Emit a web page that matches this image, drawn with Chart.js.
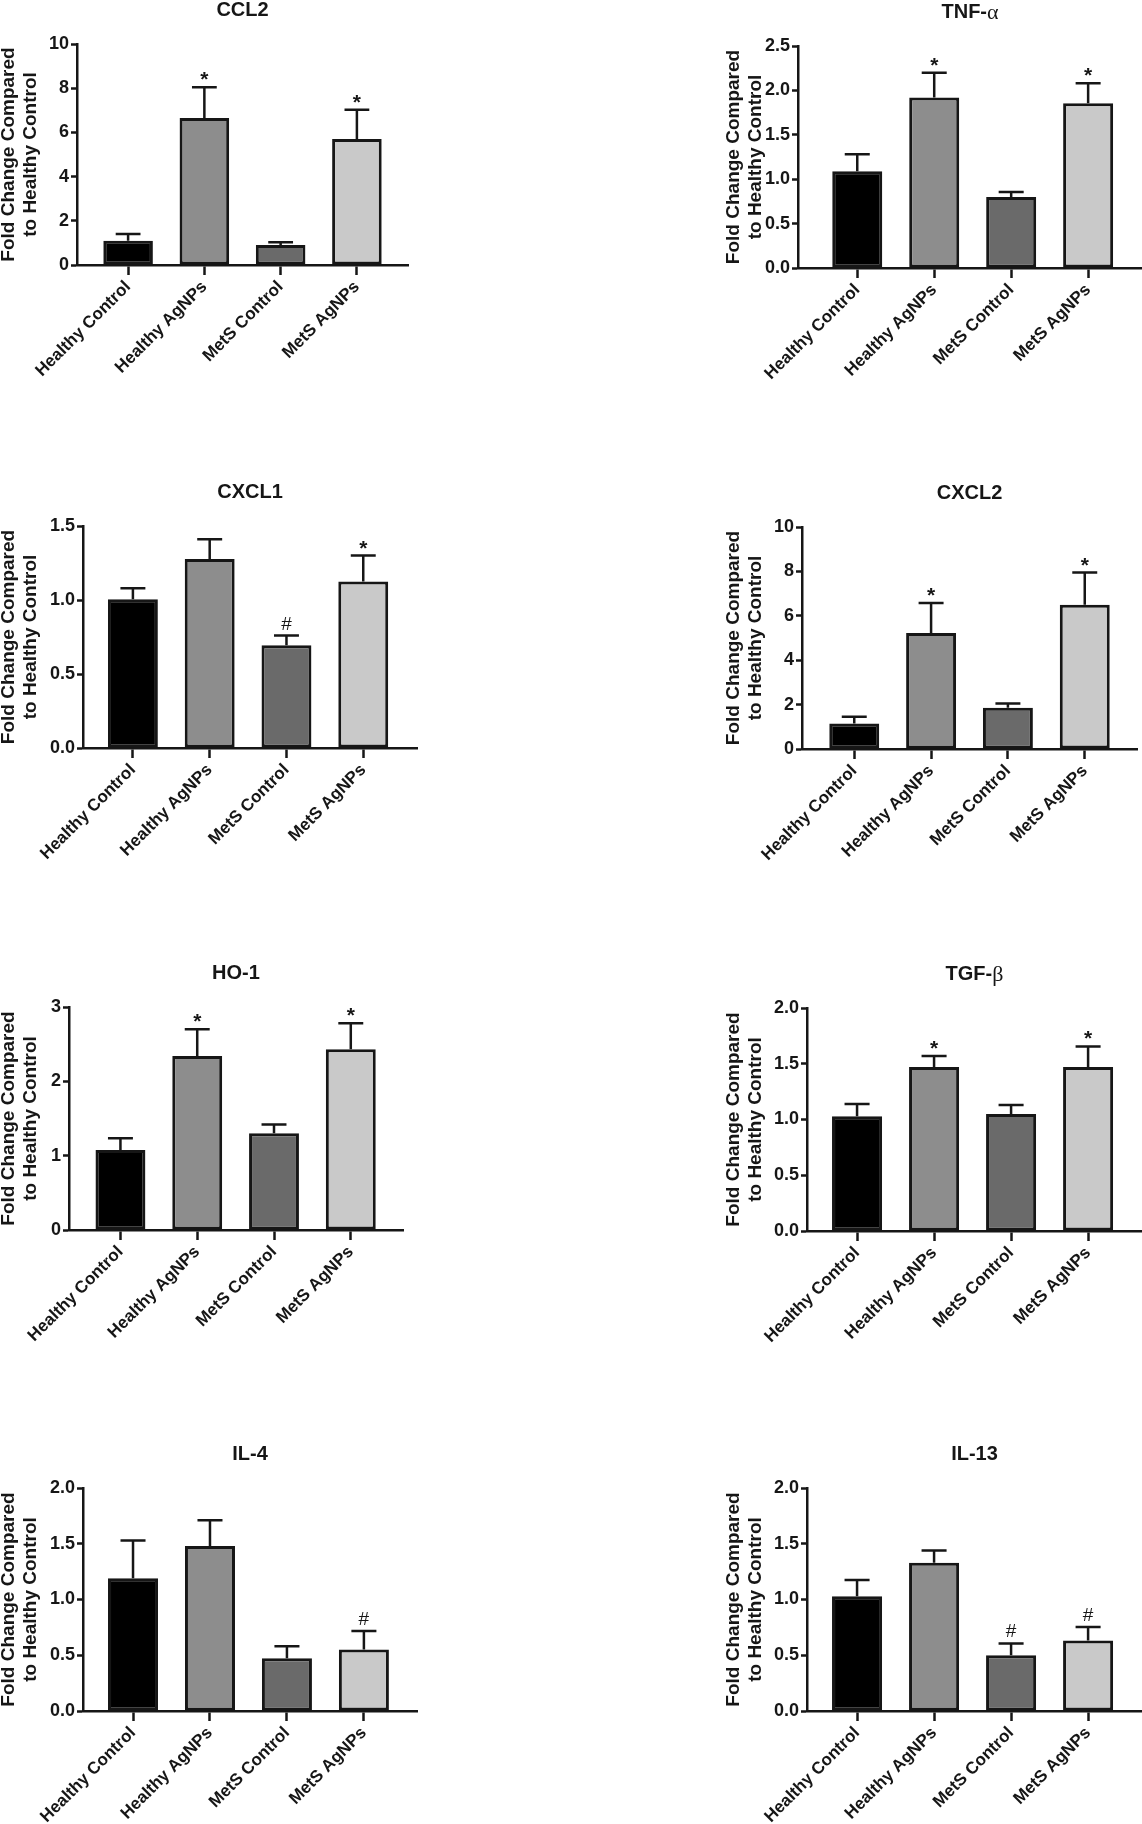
<!DOCTYPE html>
<html>
<head>
<meta charset="utf-8">
<script src="https://cdn.jsdelivr.net/npm/chart.js@4.4.1/dist/chart.umd.min.js"></script>
<style>
  body { margin: 0; background: #fff; width: 1142px; height: 1824px; position: relative; overflow: hidden; }
  canvas { position: absolute; }
</style>
</head>
<body>
<script>
// groups along the x axis (same for every panel)
var groups = ['Healthy Control', 'Healthy AgNPs', 'MetS Control', 'MetS AgNPs'];

// mean fold change, upper error (SEM) and significance mark per group
var ccl2Mean = [1.10, 6.65, 0.91, 5.70];
var ccl2Err  = [0.30, 1.39, 0.12, 1.32];
var ccl2Sig  = ['', '*', '', '*'];

var tnfMean = [1.09, 1.92, 0.80, 1.855];
var tnfErr  = [0.19, 0.28, 0.055, 0.225];
var tnfSig  = ['', '*', '', '*'];

var cxcl1Mean = [1.005, 1.277, 0.695, 1.125];
var cxcl1Err  = [0.075, 0.133, 0.065, 0.175];
var cxcl1Sig  = ['', '', '#', '*'];

var cxcl2Mean = [1.15, 5.23, 1.86, 6.50];
var cxcl2Err  = [0.30, 1.35, 0.19, 1.45];
var cxcl2Sig  = ['', '*', '', '*'];

var ho1Mean = [1.075, 2.34, 1.30, 2.43];
var ho1Err  = [0.16, 0.36, 0.12, 0.35];
var ho1Sig  = ['', '*', '', '*'];

var tgfMean = [1.03, 1.47, 1.05, 1.47];
var tgfErr  = [0.11, 0.10, 0.08, 0.185];
var tgfSig  = ['', '*', '', '*'];

var il4Mean = [1.19, 1.48, 0.474, 0.552];
var il4Err  = [0.34, 0.23, 0.106, 0.165];
var il4Sig  = ['', '', '', '#'];

var il13Mean = [1.03, 1.33, 0.50, 0.633];
var il13Err  = [0.145, 0.11, 0.106, 0.12];
var il13Sig  = ['', '', '#', '#'];

// bar fills, one per group
var barColors = ['#000000', '#8d8d8d', '#6a6a6a', '#c9c9c9'];

var ink = '#161616';
var sans = "'Liberation Sans', Arial, Helvetica, sans-serif";
Chart.defaults.font.family = sans;
Chart.defaults.color = ink;

// panel list: title (+ greek suffix), data, y axis, and where the panel sits on the page
var panels = [
  { title: 'CCL2', mean: ccl2Mean, err: ccl2Err, sig: ccl2Sig, yMax: 10, yStep: 2, dec: 0,
    box: { x: -2, y: 0, w: 430, h: 460 }, area: { left: 77, top: 44, right: 408, bottom: 265 }, xMin: -0.67, xMax: 3.67 },
  { title: 'TNF-', greek: 'α', mean: tnfMean, err: tnfErr, sig: tnfSig, yMax: 2.5, yStep: 0.5, dec: 1,
    box: { x: 700, y: 0, w: 442, h: 460 }, area: { left: 798, top: 46, right: 1142, bottom: 268 }, xMin: -0.77, xMax: 3.70 },
  { title: 'CXCL1', mean: cxcl1Mean, err: cxcl1Err, sig: cxcl1Sig, yMax: 1.5, yStep: 0.5, dec: 1,
    box: { x: -2, y: 460, w: 430, h: 480 }, area: { left: 83, top: 526, right: 417, bottom: 748 }, xMin: -0.65, xMax: 3.70 },
  { title: 'CXCL2', mean: cxcl2Mean, err: cxcl2Err, sig: cxcl2Sig, yMax: 10, yStep: 2, dec: 0,
    box: { x: 700, y: 460, w: 442, h: 480 }, area: { left: 802, top: 527, right: 1137, bottom: 749 }, xMin: -0.68, xMax: 3.68 },
  { title: 'HO-1', mean: ho1Mean, err: ho1Err, sig: ho1Sig, yMax: 3, yStep: 1, dec: 0,
    box: { x: -2, y: 940, w: 430, h: 480 }, area: { left: 69, top: 1007, right: 403, bottom: 1230 }, xMin: -0.67, xMax: 3.68 },
  { title: 'TGF-', greek: 'β', mean: tgfMean, err: tgfErr, sig: tgfSig, yMax: 2, yStep: 0.5, dec: 1,
    box: { x: 700, y: 940, w: 442, h: 480 }, area: { left: 807, top: 1008, right: 1142, bottom: 1231 }, xMin: -0.65, xMax: 3.70 },
  { title: 'IL-4', mean: il4Mean, err: il4Err, sig: il4Sig, yMax: 2, yStep: 0.5, dec: 1,
    box: { x: -2, y: 1420, w: 430, h: 404 }, area: { left: 83, top: 1488, right: 417, bottom: 1711 }, xMin: -0.65, xMax: 3.69 },
  { title: 'IL-13', mean: il13Mean, err: il13Err, sig: il13Sig, yMax: 2, yStep: 0.5, dec: 1,
    box: { x: 700, y: 1420, w: 442, h: 404 }, area: { left: 807, top: 1488, right: 1142, bottom: 1711 }, xMin: -0.65, xMax: 3.70 }
];

//draws the upper error bar, its cap and the significance mark over each bar
function errorPlugin(p) {
  return {
    id: 'errorBars',
    afterDatasetsDraw: function (chart) {
      var ctx = chart.ctx;
      var yScale = chart.scales.y;
      var meta = chart.getDatasetMeta(0);
      meta.data.forEach(function (bar, i) {
        var base = yScale.getPixelForValue(p.mean[i]);
        var top = yScale.getPixelForValue(p.mean[i] + p.err[i]);
        var half = bar.width / 4;
        ctx.save();
        ctx.strokeStyle = ink;
        ctx.lineWidth = 2.5;
        ctx.beginPath();
        ctx.moveTo(bar.x, base);
        ctx.lineTo(bar.x, top);
        ctx.moveTo(bar.x - half, top);
        ctx.lineTo(bar.x + half, top);
        ctx.stroke();
        if (p.sig[i]) {
          ctx.fillStyle = ink;
          ctx.textAlign = 'center';
          ctx.textBaseline = 'alphabetic';
          if (p.sig[i] === '*') {
            ctx.font = 'bold 21px ' + sans;
            ctx.fillText('*', bar.x, top - 1);
          } else {
            ctx.font = '19px ' + sans;
            ctx.fillText('#', bar.x, top - 6);
          }
        }
        ctx.restore();
      });
    }
  };
}

//panel title centred over the plot area
function titlePlugin(p) {
  return {
    id: 'panelTitle',
    afterDraw: function (chart) {
      var ctx = chart.ctx;
      var a = chart.chartArea;
      var cx = (a.left + a.right) / 2;
      var cy = a.top - 34;
      ctx.save();
      ctx.fillStyle = ink;
      ctx.textBaseline = 'middle';
      var bold = 'bold 20px ' + sans;
      var serif = '22px "Liberation Serif", "Times New Roman", serif';
      ctx.font = bold;
      var w1 = ctx.measureText(p.title).width;
      var w2 = 0;
      if (p.greek) {
        ctx.font = serif;
        w2 = ctx.measureText(p.greek).width;
      }
      var x0 = cx - (w1 + w2) / 2;
      ctx.textAlign = 'left';
      ctx.font = bold;
      ctx.fillText(p.title, x0, cy);
      if (p.greek) {
        ctx.font = serif;
        ctx.fillText(p.greek, x0 + w1, cy + 1);
      }
      ctx.restore();
    }
  };
}

function makePanel(p) {
  var c = document.createElement('canvas');
  c.width = p.box.w;
  c.height = p.box.h;
  c.style.left = p.box.x + 'px';
  c.style.top = p.box.y + 'px';
  document.body.appendChild(c);

  var padTop = p.area.top - p.box.y;
  var padRight = p.box.x + p.box.w - p.area.right;
  var yWidth = p.area.left - p.box.x;
  var xHeight = p.box.y + p.box.h - p.area.bottom;
  var titlePad = p.box.x < 0 ? 0 : 23;

  new Chart(c, {
    type: 'bar',
    data: {
      datasets: [{
        data: p.mean.map(function (v, i) { return { x: i, y: v }; }),
        backgroundColor: barColors,
        borderColor: ink,
        borderWidth: 3,
        borderSkipped: false,
        barPercentage: 0.65,
        categoryPercentage: 1
      }]
    },
    options: {
      responsive: false,
      animation: false,
      layout: { autoPadding: false, padding: { top: padTop, right: padRight, left: 0, bottom: 0 } },
      plugins: { legend: { display: false }, tooltip: { enabled: false }, title: { display: false } },
      scales: {
        x: {
          type: 'linear',
          min: p.xMin,
          max: p.xMax,
          offset: false,
          afterBuildTicks: function (s) { s.ticks = groups.map(function (g, i) { return { value: i }; }); },
          afterFit: function (s) { s.height = xHeight; },
          ticks: {
            autoSkip: false,
            minRotation: 45,
            maxRotation: 45,
            padding: 2,
            color: ink,
            font: { size: 17, weight: 'bold' },
            callback: function (v) { return groups[v]; }
          },
          grid: { offset: false, drawOnChartArea: false, drawTicks: true, tickLength: 10, tickWidth: 2.5, tickColor: ink },
          border: { display: true, color: ink, width: 2.5 }
        },
        y: {
          min: 0,
          max: p.yMax,
          afterFit: function (s) { s.width = yWidth; },
          ticks: {
            stepSize: p.yStep,
            padding: 2,
            color: ink,
            font: { size: 18, weight: 'bold' },
            callback: function (v) { return Number(v).toFixed(p.dec); }
          },
          grid: { drawOnChartArea: false, drawTicks: true, tickLength: 6, tickWidth: 2.5, tickColor: ink },
          border: { display: true, color: ink, width: 2.5 },
          title: {
            display: true,
            text: ['Fold Change Compared', 'to Healthy Control'],
            color: ink,
            font: { size: 19, weight: 'bold', lineHeight: 22 / 19 },
            padding: { top: titlePad, bottom: 0 }
          }
        }
      }
    },
    plugins: [errorPlugin(p), titlePlugin(p)]
  });
}

panels.forEach(makePanel);
</script>
</body>
</html>
